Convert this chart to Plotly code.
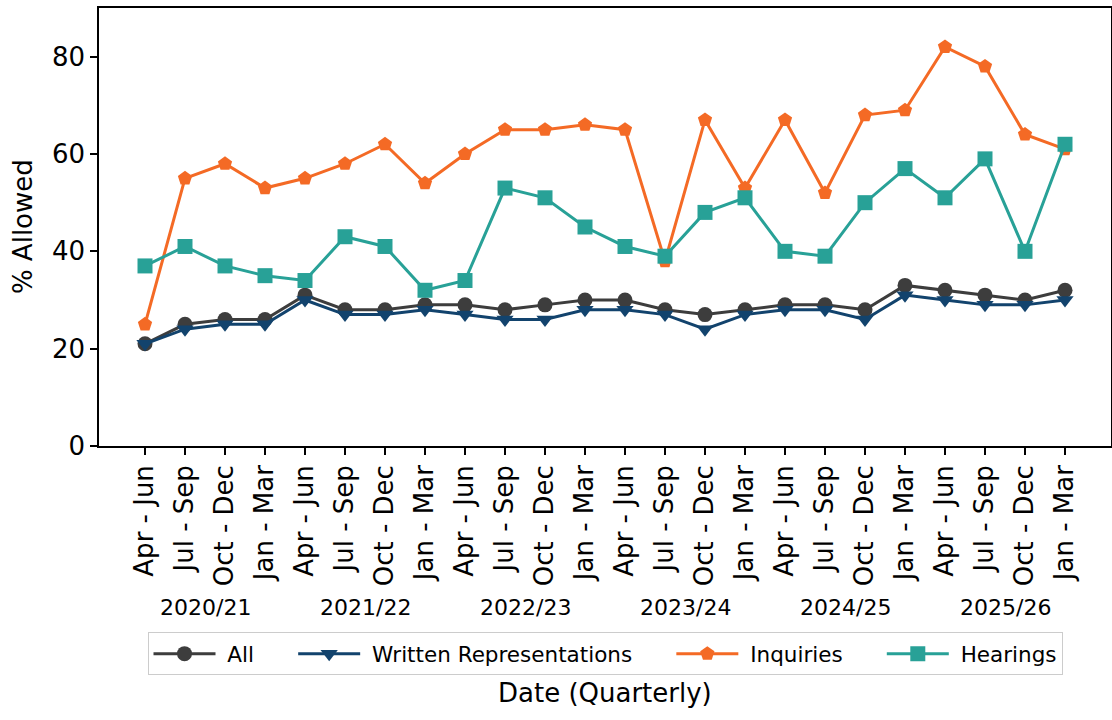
import plotly.graph_objects as go

# quarterly labels and financial years
quarters = ["Apr - Jun", "Jul - Sep", "Oct - Dec", "Jan - Mar"] * 6
years = ["2020/21", "2021/22", "2022/23", "2023/24", "2024/25", "2025/26"]

# % allowed
all_cases = [21, 25, 26, 26, 31, 28, 28, 29, 29, 28, 29, 30,
             30, 28, 27, 28, 29, 29, 28, 33, 32, 31, 30, 32]
written = [21, 24, 25, 25, 30, 27, 27, 28, 27, 26, 26, 28,
           28, 27, 24, 27, 28, 28, 26, 31, 30, 29, 29, 30]
inquiries = [25, 55, 58, 53, 55, 58, 62, 54, 60, 65, 65, 66,
             65, 38, 67, 53, 67, 52, 68, 69, 82, 78, 64, 61]
hearings = [37, 41, 37, 35, 34, 43, 41, 32, 34, 53, 51, 45,
            41, 39, 48, 51, 40, 39, 50, 57, 51, 59, 40, 62]

x = list(range(len(quarters)))

series = [
    ("All", all_cases, "#3D3D3D", "circle"),
    ("Written Representations", written, "#12436D", "triangle-down"),
    ("Inquiries", inquiries, "#F46A25", "pentagon"),
    ("Hearings", hearings, "#28A197", "square"),
]

nb = "\u00a0"  # non-breaking spaces to space out the legend entries

fig = go.Figure()
for k, (name, vals, col, sym) in enumerate(series):
    label = nb + name + (nb * 5 if k < len(series) - 1 else "")
    fig.add_trace(go.Scatter(
        x=x, y=vals, name=label,
        mode="lines+markers",
        line=dict(color=col, width=3),
        marker=dict(symbol=sym, size=15, color=col),
    ))

font = "DejaVu Sans"

# financial year labels under each group of four quarters
for i, yr in enumerate(years):
    fig.add_annotation(x=i * 4 + 1.5, y=-0.368, xref="x", yref="paper",
                       text=yr, showarrow=False, yanchor="middle",
                       font=dict(family=font, size=22, color="black"))

fig.add_annotation(x=0.5, y=-0.565, xref="paper", yref="paper",
                   text="Date (Quarterly)", showarrow=False, yanchor="middle",
                   font=dict(family=font, size=26, color="black"))
fig.add_annotation(x=-0.075, y=0.5, xref="paper", yref="paper",
                   text="% Allowed", showarrow=False, textangle=-90,
                   xanchor="center", yanchor="middle",
                   font=dict(family=font, size=26, color="black"))

fig.update_layout(
    width=1112, height=720,
    margin=dict(l=99, r=1, t=8, b=274, autoexpand=False),
    paper_bgcolor="white", plot_bgcolor="white",
    font=dict(family=font, color="black"),
    showlegend=True,
    legend=dict(orientation="h", x=0.5, xanchor="center", y=-0.425, yanchor="top",
                bordercolor="#cccccc", borderwidth=1, itemwidth=62,
                font=dict(family=font, size=21.5, color="black")),
    xaxis=dict(range=[-1.15, 24.15], tickvals=x, ticktext=quarters, tickangle=-90,
               automargin=False,
               showgrid=False, zeroline=False, showline=True, linecolor="black",
               linewidth=1.5, mirror=True, ticks="outside", ticklen=7,
               tickcolor="black", tickwidth=1.5,
               tickfont=dict(family=font, size=26, color="black")),
    yaxis=dict(range=[0, 90], tickvals=[0, 20, 40, 60, 80], automargin=False,
               showgrid=False, zeroline=False, showline=True, linecolor="black",
               linewidth=1.5, mirror=True, ticks="outside", ticklen=7,
               tickcolor="black", tickwidth=1.5,
               tickfont=dict(family=font, size=26, color="black")),
)

fig.write_html("out.html", config={"displayModeBar": False},
               post_script="document.body.style.margin = '0';")
